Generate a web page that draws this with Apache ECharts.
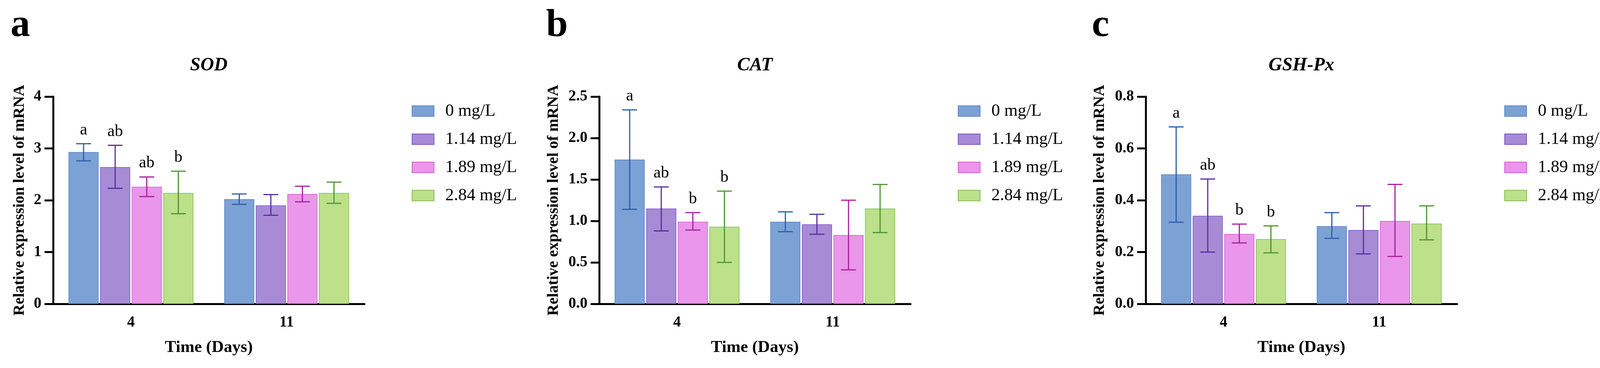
<!DOCTYPE html>
<html>
<head>
<meta charset="utf-8">
<title>SOD / CAT / GSH-Px</title>
<script src="https://cdn.jsdelivr.net/npm/echarts@6/dist/echarts.min.js"></script>
<style>
  html, body { margin: 0; padding: 0; background: #fff; }
  #main { width: 4140px; height: 941px; }
</style>
</head>
<body>
<div id="main"></div>
<script>
// categories
var days = ['4', '11'];
var groups = ['0 mg/L', '1.14 mg/L', '1.89 mg/L', '2.84 mg/L'];

// SOD: one array per concentration, values for day 4 and day 11
var sodMean = [[2.93, 2.02], [2.64, 1.90], [2.26, 2.12], [2.14, 2.14]];
var sodLow  = [[2.76, 1.92], [2.23, 1.71], [2.07, 1.97], [1.74, 1.94]];
var sodHigh = [[3.09, 2.12], [3.06, 2.11], [2.45, 2.27], [2.56, 2.35]];
var sodLetters = [['a', ''], ['ab', ''], ['ab', ''], ['b', '']];

// CAT
var catMean = [[1.74, 0.99], [1.15, 0.96], [0.99, 0.83], [0.93, 1.15]];
var catLow  = [[1.14, 0.87], [0.88, 0.84], [0.89, 0.41], [0.50, 0.86]];
var catHigh = [[2.34, 1.11], [1.41, 1.08], [1.10, 1.25], [1.36, 1.44]];
var catLetters = [['a', ''], ['ab', ''], ['b', ''], ['b', '']];

// GSH-Px
var gshMean = [[0.50, 0.30], [0.34, 0.285], [0.27, 0.32], [0.25, 0.31]];
var gshLow  = [[0.315, 0.253], [0.20, 0.193], [0.235, 0.183], [0.197, 0.247]];
var gshHigh = [[0.683, 0.352], [0.482, 0.378], [0.308, 0.461], [0.301, 0.378]];
var gshLetters = [['a', ''], ['ab', ''], ['b', ''], ['b', '']];

// axis ticks
var sodTicks = { max: 4, interval: 1, digits: 0 };
var catTicks = { max: 2.5, interval: 0.5, digits: 1 };
var gshTicks = { max: 0.8, interval: 0.2, digits: 1 };

var fills   = ['#7ca1d5', '#a78bd5', '#ea96ea', '#bde08a'];
var borders = ['#5b86c6', '#7c58c2', '#cf5fcf', '#80bb52'];
var errCols = ['#2d5fa8', '#5a2ea6', '#a8219e', '#4f9531'];

var FONT = "'Liberation Serif', 'Times New Roman', serif";
var BAR_W = 77;
var STEP = BAR_W * 1.05;

var panels = [
  { key: 'a', title: 'SOD', mean: sodMean, low: sodLow, high: sodHigh, letters: sodLetters, ticks: sodTicks, left: 136, nameGap: 65 },
  { key: 'b', title: 'CAT', mean: catMean, low: catLow, high: catHigh, letters: catLetters, ticks: catTicks, left: 1534, nameGap: 96 },
  { key: 'c', title: 'GSH-Px', mean: gshMean, low: gshLow, high: gshHigh, letters: gshLetters, ticks: gshTicks, left: 2933, nameGap: 97 }
];
var panelLetterX = [27, 1398, 2795];

var grids = [], xAxes = [], yAxes = [], series = [], legends = [], graphics = [];

panels.forEach(function (p, pi) {
  grids.push({ left: p.left, top: 247, width: 797, height: 530 });

  xAxes.push({
    type: 'category', gridIndex: pi, data: days,
    name: 'Time (Days)', nameLocation: 'middle', nameGap: 90,
    nameTextStyle: { fontFamily: FONT, fontWeight: 'bold', fontSize: 43, color: '#000' },
    axisLine: { lineStyle: { color: '#000', width: 5 } },
    axisTick: { alignWithLabel: true, length: 24, lineStyle: { color: '#000', width: 5 } },
    axisLabel: { margin: 28, fontFamily: FONT, fontWeight: 'bold', fontSize: 39, color: '#000' }
  });

  yAxes.push({
    type: 'value', gridIndex: pi, min: 0, max: p.ticks.max, interval: p.ticks.interval,
    name: 'Relative expression level of mRNA', nameLocation: 'middle', nameGap: p.nameGap,
    nameTextStyle: { fontFamily: FONT, fontWeight: 'bold', fontSize: 40, color: '#000' },
    splitLine: { show: false },
    axisLine: { show: true, lineStyle: { color: '#000', width: 5 } },
    axisTick: { show: true, length: 22, lineStyle: { color: '#000', width: 5 } },
    axisLabel: {
      margin: 30, fontFamily: FONT, fontWeight: 'bold', fontSize: 39, color: '#000',
      formatter: (function (d) { return function (v) { return v.toFixed(d); }; })(p.ticks.digits)
    }
  });

  groups.forEach(function (g, gi) {
    series.push({
      name: g, type: 'bar', xAxisIndex: pi, yAxisIndex: pi,
      data: p.mean[gi], barWidth: BAR_W, barGap: '5%',
      itemStyle: { color: fills[gi], borderColor: borders[gi], borderWidth: 1.5 },
      emphasis: { disabled: true }
    });
  });

  groups.forEach(function (g, gi) {
    var errData = days.map(function (d, di) { return [di, p.low[gi][di], p.high[gi][di]]; });
    series.push({
      type: 'custom', xAxisIndex: pi, yAxisIndex: pi, z: 5,
      data: errData,
      renderItem: function (params, api) {
        var ci = api.value(0);
        var lo = api.coord([ci, api.value(1)]);
        var hi = api.coord([ci, api.value(2)]);
        var x = lo[0] + (gi - 1.5) * STEP;
        var half = 19;
        var ls = { stroke: errCols[gi], lineWidth: 3 };
        var children = [
          { type: 'line', shape: { x1: x, y1: lo[1], x2: x, y2: hi[1] }, style: ls },
          { type: 'line', shape: { x1: x - half, y1: hi[1], x2: x + half, y2: hi[1] }, style: ls },
          { type: 'line', shape: { x1: x - half, y1: lo[1], x2: x + half, y2: lo[1] }, style: ls }
        ];
        var letter = p.letters[gi][params.dataIndex];
        if (letter) {
          children.push({
            type: 'text',
            style: {
              text: letter, x: x, y: hi[1] - 14, align: 'center', verticalAlign: 'bottom',
              fontFamily: FONT, fontSize: 42, fill: '#000'
            }
          });
        }
        return { type: 'group', children: children };
      }
    });
  });

  legends.push({
    data: groups, left: p.left + 918, top: 262, orient: 'vertical', padding: 0,
    icon: 'rect', itemWidth: 56, itemHeight: 27, itemGap: 28,
    selectedMode: false,
    textStyle: { fontFamily: FONT, fontSize: 44, color: '#000', lineHeight: 42, padding: [0, 0, 0, 24] }
  });

  graphics.push({
    type: 'text',
    style: {
      text: p.title, x: p.left + 398.5, y: 168, align: 'center', verticalAlign: 'middle',
      fontFamily: FONT, fontStyle: 'italic', fontWeight: 'bold', fontSize: 48, fill: '#000'
    }
  });
  graphics.push({
    type: 'text',
    style: {
      text: p.key, x: panelLetterX[pi], y: 66, align: 'left', verticalAlign: 'middle',
      fontFamily: FONT, fontWeight: 'bold', fontSize: 100, fill: '#000'
    }
  });
});

var myChart = echarts.init(document.getElementById('main'));
myChart.setOption({
  animation: false,
  backgroundColor: '#fff',
  grid: grids,
  xAxis: xAxes,
  yAxis: yAxes,
  legend: legends,
  graphic: graphics,
  series: series
});
</script>
</body>
</html>
